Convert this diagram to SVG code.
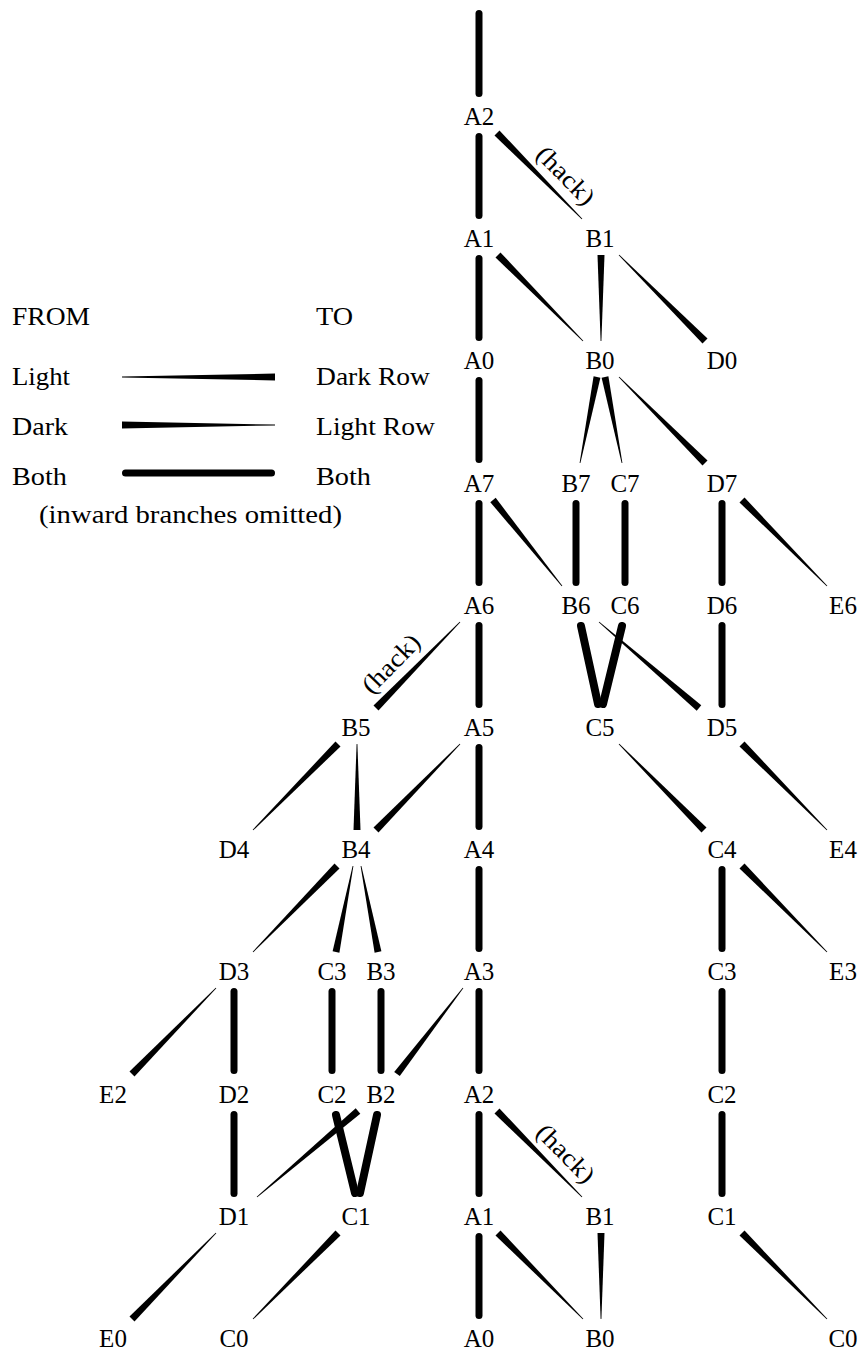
<svg xmlns="http://www.w3.org/2000/svg" width="862" height="1354" viewBox="0 0 862 1354">
<style>
.lbl{font-family:"Liberation Serif","Times New Roman",serif;font-size:25px;fill:#000;text-anchor:middle}
.leg{font-family:"Liberation Serif","Times New Roman",serif;font-size:25px;fill:#000}
.both{stroke:#000;stroke-width:7;stroke-linecap:round;fill:none}
.both8{stroke:#000;stroke-width:8;stroke-linecap:round;fill:none}
.taper{fill:#000;stroke:none}
</style>
<rect width="862" height="1354" fill="#fff"/>
<g id="legend">
<text class="leg" x="12" y="325" textLength="78" lengthAdjust="spacingAndGlyphs">FROM</text>
<text class="leg" x="316" y="325" textLength="37" lengthAdjust="spacingAndGlyphs">TO</text>
<text class="leg" x="12" y="385" textLength="58" lengthAdjust="spacingAndGlyphs">Light</text>
<text class="leg" x="316" y="385" textLength="114" lengthAdjust="spacingAndGlyphs">Dark Row</text>
<text class="leg" x="12" y="435" textLength="56" lengthAdjust="spacingAndGlyphs">Dark</text>
<text class="leg" x="316" y="435" textLength="119" lengthAdjust="spacingAndGlyphs">Light Row</text>
<text class="leg" x="12" y="485" textLength="55" lengthAdjust="spacingAndGlyphs">Both</text>
<text class="leg" x="316" y="485" textLength="55" lengthAdjust="spacingAndGlyphs">Both</text>
<text class="leg" x="39" y="523" textLength="303" lengthAdjust="spacingAndGlyphs">(inward branches omitted)</text>
<polygon class="taper" points="122,376.6 275,373.5 275,380.5 122,377.4"/>
<polygon class="taper" points="122,421.5 275,424.6 275,425.4 122,428.5"/>
<line class="both" x1="125.5" y1="473" x2="271.5" y2="473"/>
</g>
<g id="connectors">
<!-- both-thick -->
<line class="both" x1="479" y1="13.5" x2="479" y2="93.5"/>
<line class="both" x1="479" y1="136.5" x2="479" y2="215.5"/>
<line class="both" x1="479" y1="258.5" x2="479" y2="337.5"/>
<line class="both" x1="479" y1="380.5" x2="479" y2="459.5"/>
<line class="both" x1="479" y1="503.5" x2="479" y2="582.5"/>
<line class="both" x1="479" y1="625.5" x2="479" y2="704.5"/>
<line class="both" x1="479" y1="747.5" x2="479" y2="826.5"/>
<line class="both" x1="479" y1="869.5" x2="479" y2="948.5"/>
<line class="both" x1="479" y1="991.5" x2="479" y2="1070.5"/>
<line class="both" x1="479" y1="1114.5" x2="479" y2="1193.5"/>
<line class="both" x1="479" y1="1236.5" x2="479" y2="1315.5"/>
<line class="both" x1="576" y1="503.5" x2="576" y2="582.5"/>
<line class="both" x1="625" y1="503.5" x2="625" y2="582.5"/>
<line class="both" x1="722" y1="503.5" x2="722" y2="582.5"/>
<line class="both" x1="722" y1="625.5" x2="722" y2="704.5"/>
<line class="both8" x1="581" y1="626" x2="598" y2="704"/>
<line class="both8" x1="622" y1="626" x2="603" y2="704"/>
<line class="both" x1="722" y1="869.5" x2="722" y2="948.5"/>
<line class="both" x1="722" y1="991.5" x2="722" y2="1070.5"/>
<line class="both" x1="722" y1="1114.5" x2="722" y2="1193.5"/>
<line class="both" x1="234" y1="991.5" x2="234" y2="1070.5"/>
<line class="both" x1="332" y1="991.5" x2="332" y2="1070.5"/>
<line class="both" x1="381" y1="991.5" x2="381" y2="1070.5"/>
<line class="both" x1="234" y1="1114.5" x2="234" y2="1193.5"/>
<line class="both8" x1="336" y1="1115" x2="355" y2="1193"/>
<line class="both8" x1="377" y1="1115" x2="360" y2="1193"/>
<!-- tapered -->
<polygon class="taper" points="494.5,135.5 581.7,219.3 582.3,218.7 499.5,130.5"/>
<polygon class="taper" points="495.5,257.5 582.7,341.3 583.3,340.7 500.5,252.5"/>
<polygon class="taper" points="597.5,255 604.5,255 601.4,341 600.6,341"/>
<polygon class="taper" points="618.7,255.3 702.5,343.5 707.5,338.5 619.3,254.7"/>
<polygon class="taper" points="593.6,376.3 579.6,462.9 580.4,463.1 600.4,377.7"/>
<polygon class="taper" points="601.6,377.7 621.6,463.1 622.4,462.9 608.4,376.3"/>
<polygon class="taper" points="618.7,377.3 702.5,465.5 707.5,460.5 619.3,376.7"/>
<polygon class="taper" points="490.3,502.2 561.7,586.25 562.3,585.75 495.7,497.8"/>
<polygon class="taper" points="739.5,502.5 826.7,586.3 827.3,585.7 744.5,497.5"/>
<polygon class="taper" points="598.74,622.3 696.72,710.65 701.28,705.35 599.26,621.7"/>
<polygon class="taper" points="459.7,621.7 373.5,705.5 378.5,710.5 460.3,622.3"/>
<polygon class="taper" points="335.5,741.5 252.7,829.7 253.3,830.3 340.5,746.5"/>
<polygon class="taper" points="356.6,744 357.4,744 360.5,830 353.5,830"/>
<polygon class="taper" points="459.7,743.7 373.5,827.5 378.5,832.5 460.3,744.3"/>
<polygon class="taper" points="618.7,744.3 701.5,832.5 706.5,827.5 619.3,743.7"/>
<polygon class="taper" points="739.5,746.5 826.7,830.3 827.3,829.7 744.5,741.5"/>
<polygon class="taper" points="739.5,868.5 826.7,952.3 827.3,951.7 744.5,863.5"/>
<polygon class="taper" points="334.5,863.5 252.7,951.7 253.3,952.3 339.5,868.5"/>
<polygon class="taper" points="352.6,865.9 332.6,951.3 339.4,952.7 353.4,866.1"/>
<polygon class="taper" points="360.6,866.1 374.6,952.7 381.4,951.3 361.4,865.9"/>
<polygon class="taper" points="215.7,987.7 129.5,1071.5 134.5,1076.5 216.3,988.3"/>
<polygon class="taper" points="462.7,987.8 394.2,1071.9 399.8,1076.1 463.3,988.2"/>
<polygon class="taper" points="355.7,1108.3 256.7,1196.7 257.3,1197.3 360.3,1113.7"/>
<polygon class="taper" points="494.5,1113.5 581.7,1197.3 582.3,1196.7 499.5,1108.5"/>
<polygon class="taper" points="215.7,1232.7 129.5,1316.5 134.5,1321.5 216.3,1233.3"/>
<polygon class="taper" points="335.5,1230.5 252.7,1318.7 253.3,1319.3 340.5,1235.5"/>
<polygon class="taper" points="495.5,1235.5 582.7,1319.3 583.3,1318.7 500.5,1230.5"/>
<polygon class="taper" points="597.5,1233 604.5,1233 601.4,1319 600.6,1319"/>
<polygon class="taper" points="739.5,1235.5 826.7,1319.3 827.3,1318.7 744.5,1230.5"/>
<!-- hack labels -->
<text class="lbl" transform="translate(552,189) rotate(45.3)" x="0" y="-11" textLength="72" lengthAdjust="spacingAndGlyphs">(hack)</text>
<text class="lbl" transform="translate(552,1167) rotate(45.3)" x="0" y="-11" textLength="72" lengthAdjust="spacingAndGlyphs">(hack)</text>
<text class="lbl" transform="translate(405.5,677.8) rotate(-45.7)" x="0" y="-12" textLength="72" lengthAdjust="spacingAndGlyphs">(hack)</text>
</g>
<g id="n0-A2"><text class="lbl" x="479" y="125">A2</text></g>
<g id="n1-A1"><text class="lbl" x="479" y="247.2">A1</text></g>
<g id="n1-B1"><text class="lbl" x="600" y="247.2">B1</text></g>
<g id="n2-A0"><text class="lbl" x="479" y="369.4">A0</text></g>
<g id="n2-B0"><text class="lbl" x="600" y="369.4">B0</text></g>
<g id="n2-D0"><text class="lbl" x="722" y="369.4">D0</text></g>
<g id="n3-A7"><text class="lbl" x="479" y="491.6">A7</text></g>
<g id="n3-B7"><text class="lbl" x="576" y="491.6">B7</text></g>
<g id="n3-C7"><text class="lbl" x="625" y="491.6">C7</text></g>
<g id="n3-D7"><text class="lbl" x="722" y="491.6">D7</text></g>
<g id="n4-A6"><text class="lbl" x="479" y="613.8">A6</text></g>
<g id="n4-B6"><text class="lbl" x="576" y="613.8">B6</text></g>
<g id="n4-C6"><text class="lbl" x="625" y="613.8">C6</text></g>
<g id="n4-D6"><text class="lbl" x="722" y="613.8">D6</text></g>
<g id="n4-E6"><text class="lbl" x="843" y="613.8">E6</text></g>
<g id="n5-B5"><text class="lbl" x="356" y="736">B5</text></g>
<g id="n5-A5"><text class="lbl" x="479" y="736">A5</text></g>
<g id="n5-C5"><text class="lbl" x="600" y="736">C5</text></g>
<g id="n5-D5"><text class="lbl" x="722" y="736">D5</text></g>
<g id="n6-D4"><text class="lbl" x="234" y="858.2">D4</text></g>
<g id="n6-B4"><text class="lbl" x="356" y="858.2">B4</text></g>
<g id="n6-A4"><text class="lbl" x="479" y="858.2">A4</text></g>
<g id="n6-C4"><text class="lbl" x="722" y="858.2">C4</text></g>
<g id="n6-E4"><text class="lbl" x="843" y="858.2">E4</text></g>
<g id="n7-D3"><text class="lbl" x="234" y="980.4">D3</text></g>
<g id="n7-C3"><text class="lbl" x="332" y="980.4">C3</text></g>
<g id="n7-B3"><text class="lbl" x="381" y="980.4">B3</text></g>
<g id="n7-A3"><text class="lbl" x="479" y="980.4">A3</text></g>
<g id="n7-C3r"><text class="lbl" x="722" y="980.4">C3</text></g>
<g id="n7-E3"><text class="lbl" x="843" y="980.4">E3</text></g>
<g id="n8-E2"><text class="lbl" x="113" y="1102.6">E2</text></g>
<g id="n8-D2"><text class="lbl" x="234" y="1102.6">D2</text></g>
<g id="n8-C2"><text class="lbl" x="332" y="1102.6">C2</text></g>
<g id="n8-B2"><text class="lbl" x="381" y="1102.6">B2</text></g>
<g id="n8-A2"><text class="lbl" x="479" y="1102.6">A2</text></g>
<g id="n8-C2r"><text class="lbl" x="722" y="1102.6">C2</text></g>
<g id="n9-D1"><text class="lbl" x="234" y="1224.8">D1</text></g>
<g id="n9-C1"><text class="lbl" x="356" y="1224.8">C1</text></g>
<g id="n9-A1"><text class="lbl" x="479" y="1224.8">A1</text></g>
<g id="n9-B1"><text class="lbl" x="600" y="1224.8">B1</text></g>
<g id="n9-C1r"><text class="lbl" x="722" y="1224.8">C1</text></g>
<g id="n10-E0"><text class="lbl" x="113" y="1347">E0</text></g>
<g id="n10-C0"><text class="lbl" x="234" y="1347">C0</text></g>
<g id="n10-A0"><text class="lbl" x="479" y="1347">A0</text></g>
<g id="n10-B0"><text class="lbl" x="600" y="1347">B0</text></g>
<g id="n10-C0r"><text class="lbl" x="843" y="1347">C0</text></g>
</svg>
